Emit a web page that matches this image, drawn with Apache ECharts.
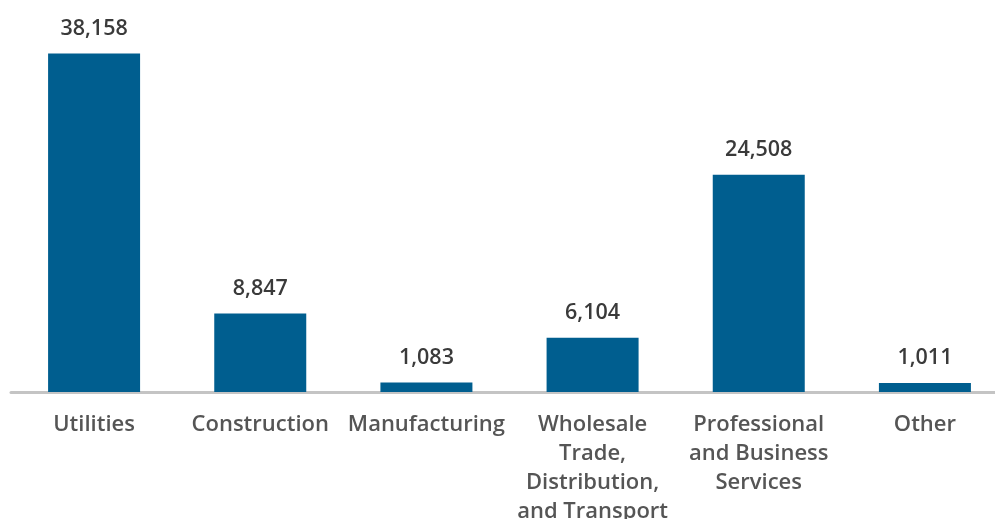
<!DOCTYPE html>
<html>
<head>
<meta charset="utf-8">
<script src="https://cdn.jsdelivr.net/npm/echarts@6/dist/echarts.min.js"></script>
<style>
  html, body { margin: 0; padding: 0; background: #fff; }
  #main { width: 995px; height: 519px; }
</style>
</head>
<body>
<div id="main"></div>
<script>
var categories = ['Utilities', 'Construction', 'Manufacturing', 'Wholesale\nTrade,\nDistribution,\nand Transport', 'Professional\nand Business\nServices', 'Other'];
var values = [38158, 8847, 1083, 6104, 24508, 1011];

var myChart = echarts.init(document.getElementById('main'));
var option = {
    animation: false,
    grid: { left: 11, top: 0, right: -13, bottom: 127, containLabel: false, outerBoundsMode: 'none' },
    xAxis: {
        type: 'category',
        data: categories,
        axisLine: { lineStyle: { color: '#c4c4c4', width: 3 } },
        axisTick: { show: false },
        axisLabel: {
            interval: 0,
            margin: 18,
            fontFamily: 'Open Sans',
            fontWeight: 600,
            fontSize: 22,
            lineHeight: 29,
            color: '#555555'
        }
    },
    yAxis: {
        type: 'value',
        min: 0,
        max: 44200,
        show: false,
        splitLine: { show: false }
    },
    series: [{
        type: 'bar',
        data: values,
        barWidth: 92,
        itemStyle: { color: '#005e8f' },
        label: {
            show: true,
            position: 'top',
            distance: 14,
            fontFamily: 'Open Sans',
            fontWeight: 600,
            fontSize: 21.5,
            color: '#3a3a3a',
            formatter: function (p) { return p.value.toLocaleString('en-US'); }
        }
    }]
};
myChart.setOption(option);
</script>
</body>
</html>
